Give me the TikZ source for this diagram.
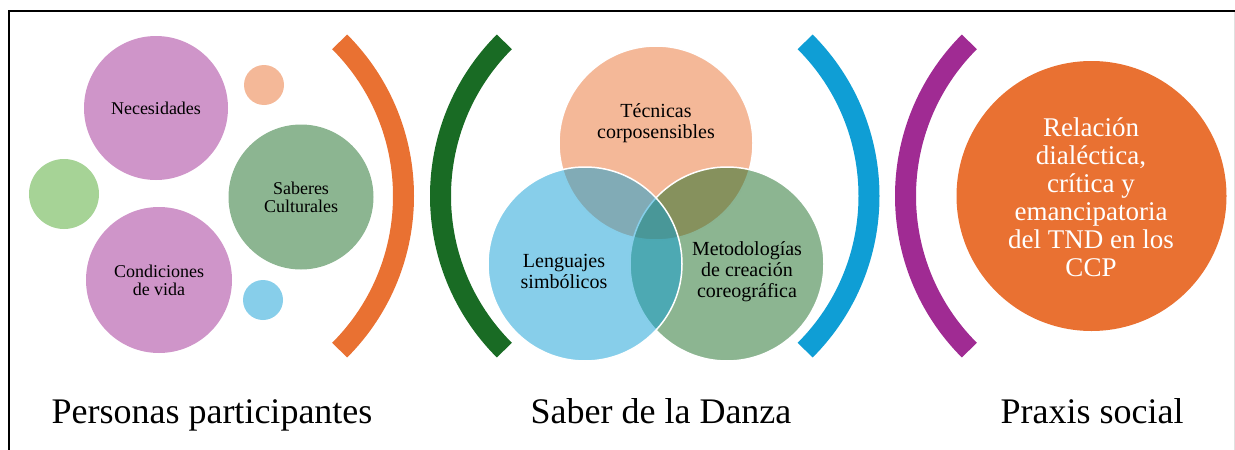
\documentclass[tikz,border=0pt]{standalone}
\usepackage{fontspec}
\setmainfont{Liberation Serif}
\definecolor{acOrange}{HTML}{E97132}
\definecolor{acGreen}{HTML}{196B24}
\definecolor{acBlue}{HTML}{0F9ED5}
\definecolor{acPurple}{HTML}{A02B93}
\definecolor{acLight}{HTML}{4EA72E}
\tikzset{
  x=1pt, y=-1pt,
  bubble/.style={circle, inner sep=0pt, draw=none},
  venn/.style={circle, inner sep=0pt, minimum size=194pt, fill opacity=0.5, draw=white, line width=1.5pt},
  paren/.style={line width=21pt, line cap=butt},
  smalltxt/.style={align=center, font=\fontsize{18}{18}\selectfont, inner sep=0pt},
  midtxt/.style={align=center, font=\fontsize{20}{21}\selectfont, inner sep=0pt},
  bigtxt/.style={align=center, font=\fontsize{27}{28}\selectfont, inner sep=0pt, text=white},
  titletxt/.style={anchor=base, font=\fontsize{36}{40}\selectfont, inner sep=0pt},
}
\begin{document}
\begin{tikzpicture}
\useasboundingbox (0,0) rectangle (1235,450);
% frame
\draw[line width=2pt] (9,450) -- (9,11) -- (1235,11);
\draw[black!12, line width=1pt] (1234,12) -- (1234,450);

% left panel
\node[bubble, minimum size=144pt, fill=acPurple!50!white] (nec) at (156,108) {};
\node[bubble, minimum size=146pt, fill=acPurple!50!white] (cond) at (159,280) {};
\node[bubble, minimum size=145pt, fill=acGreen!50!white] (sab) at (301,197) {};
\node[bubble, minimum size=40pt, fill=acOrange!50!white] (sp1) at (264,85) {};
\node[bubble, minimum size=70pt, fill=acLight!50!white] (sp2) at (64,194) {};
\node[bubble, minimum size=40pt, fill=acBlue!50!white] (sp3) at (263,300) {};
\node[smalltxt] (necT) at (nec) {Necesidades};
\node[smalltxt] (condT) at (cond) {Condiciones\\de vida};
\node[smalltxt] (sabT) at (sab) {Saberes\\Culturales};

% parentheses
\coordinate (c1) at (185.5,196);
\coordinate (c2) at (658.5,196);
\coordinate (c3) at (651,196);
\coordinate (c4) at (1123.5,196);
\draw[paren, acOrange] (c1) ++(-45:218) arc[start angle=-45, end angle=45, radius=218];
\draw[paren, acGreen] (c2) ++(135:218) arc[start angle=135, end angle=225, radius=218];
\draw[paren, acBlue] (c3) ++(-45:218) arc[start angle=-45, end angle=45, radius=218];
\draw[paren, acPurple] (c4) ++(135:218) arc[start angle=135, end angle=225, radius=218];

% Venn
\node[venn, fill=acOrange] (tec) at (656,143) {};
\node[venn, fill=acGreen] (met) at (727,264) {};
\node[venn, fill=acBlue] (len) at (585,264) {};
\node[midtxt] (tecT) at (656,123) {Técnicas\\corposensibles};
\node[midtxt] (lenT) at (564,271) {Lenguajes\\simbólicos};
\node[midtxt] (metT) at (747,272) {Metodologías\\de creación\\coreográfica};

% right panel
\node[bubble, minimum size=270pt, fill=acOrange] (rel) at (1091.5,196) {};
\node[bigtxt] (relT) at (1091,197) {Relación\\dialéctica,\\crítica y\\emancipatoria\\del TND en los\\CCP};

% titles
\node[titletxt] (t1) at (212,423) {Personas participantes};
\node[titletxt] (t2) at (661,423) {Saber de la Danza};
\node[titletxt] (t3) at (1092,423) {Praxis social};
\end{tikzpicture}
\end{document}
